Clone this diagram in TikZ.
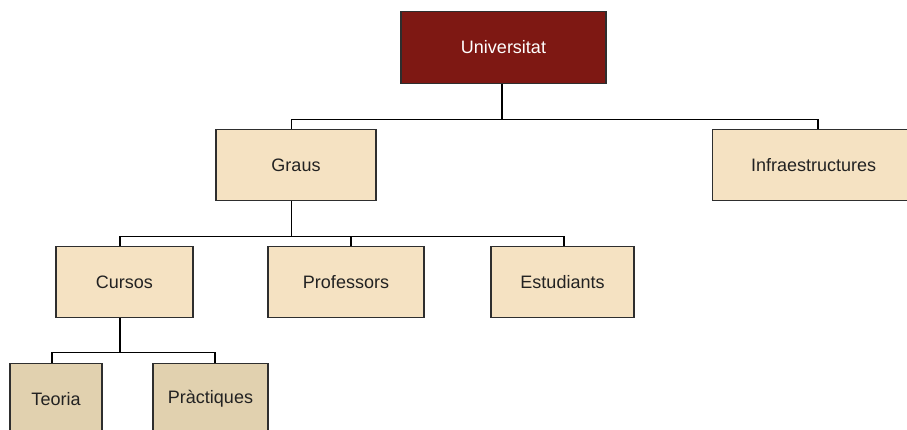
\documentclass[tikz,border=0pt]{standalone}
\usepackage{fontspec}
\setmainfont{Liberation Sans}
\definecolor{unired}{HTML}{7E1813}
\definecolor{lightbox}{HTML}{F5E2C2}
\definecolor{darkbox}{HTML}{E1D1AF}
\definecolor{edgecol}{HTML}{2E2E2E}
\definecolor{txtcol}{HTML}{222222}
\begin{document}
\begin{tikzpicture}[x=1pt,y=-1pt,
  box/.style={draw=edgecol,line width=1.3pt,inner sep=0pt,font=\fontsize{18}{20}\selectfont,text=txtcol,minimum height=71.5pt},
  lbox/.style={box,fill=lightbox},
  dbox/.style={box,fill=darkbox},
  link/.style={draw=black,line width=1.1pt}]
\useasboundingbox (0,0) rectangle (907,430);
\clip (0,0) rectangle (907,430);
\fill[white] (0,0) rectangle (907,430);
\node[box,fill=unired,text=white,minimum width=205pt] (uni) at (503.5,47.5) {Universitat};
\node[lbox,minimum width=160pt] (graus) at (296,165) {Graus};
\node[lbox,minimum width=203pt] (infra) at (813.7,165) {Infraestructures};
\node[lbox,minimum width=137pt] (cursos) at (124.5,282) {Cursos};
\node[lbox,minimum width=156pt] (prof) at (346,282) {Professors};
\node[lbox,minimum width=143pt] (est) at (562.5,282) {Estudiants};
\node[dbox,minimum width=92pt] (teoria) at (56,399) {Teoria};
\node[dbox,minimum width=115pt] (prac) at (210.5,399) {Pràctiques};
% level 1
\draw[link] ([xshift=-1.5pt]uni.south) -- ++(0,36) coordinate (b1);
\draw[link] ([xshift=-4.3pt]graus.north) |- (b1) -| ([xshift=4.3pt]infra.north);
% level 2
\draw[link] ([xshift=-4.3pt]graus.south) -- ++(0,35) coordinate (b2);
\draw[link] ([xshift=-4.5pt]cursos.north) |- (b2) -| ([xshift=1.5pt]est.north);
\draw[link] ([xshift=5pt]prof.north) -- ([xshift=5pt]prof.north |- b2);
% level 3
\draw[link] ([xshift=-4.5pt]cursos.south) -- ++(0,34.5) coordinate (b3);
\draw[link] ([xshift=-4pt]teoria.north) |- (b3) -| ([xshift=4.5pt]prac.north);
\end{tikzpicture}
\end{document}
